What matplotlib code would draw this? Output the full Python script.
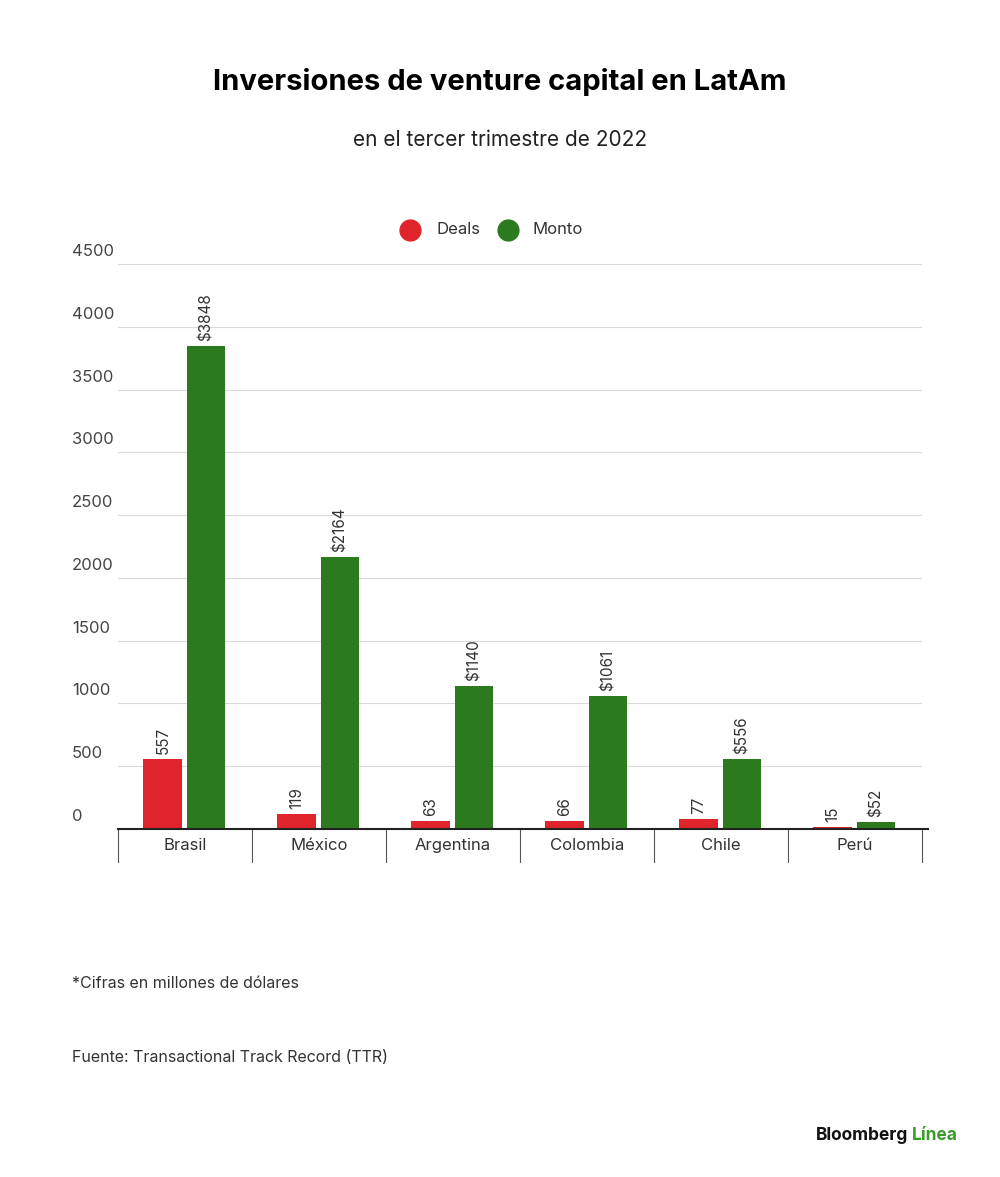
import matplotlib
matplotlib.use("Agg")
import matplotlib.pyplot as plt
import numpy as np

categories = ["Brasil", "México", "Argentina", "Colombia", "Chile", "Perú"]
deals = [557, 119, 63, 66, 77, 15]
monto = [3848, 2164, 1140, 1061, 556, 52]
yticks = [0, 500, 1000, 1500, 2000, 2500, 3000, 3500, 4000, 4500]

RED = "#e0242b"
GREEN = "#2c7a1e"
plt.rcParams['font.family'] = ['Inter', 'DejaVu Sans']

fig = plt.figure(figsize=(10, 11.77), dpi=100)
ax = fig.add_axes([0.118, 1 - 829/1177, 0.804, (829-264)/1177])
x = np.arange(len(categories))
w = 0.29
ax.bar(x - 0.165, deals, w, color=RED, zorder=3)
ax.bar(x + 0.157, monto, w, color=GREEN, zorder=3)
for xi, d, m in zip(x, deals, monto):
    ax.text(xi - 0.165, d + 40, f"{d}", rotation=90, ha='center', va='bottom', fontsize=11, color='#333')
    ax.text(xi + 0.157, m + 40, f"${m}", rotation=90, ha='center', va='bottom', fontsize=11, color='#333')
ax.set_xlim(-0.5, len(categories) - 0.5)
ax.set_ylim(0, 4500)
ax.set_yticks(yticks)
ax.set_yticklabels([])
ax.tick_params(left=False, bottom=False, labelbottom=False)
for y in yticks[1:]:
    ax.axhline(y, color='#d9d9d9', lw=0.8, zorder=1)
for s in ['top', 'right', 'left', 'bottom']:
    ax.spines[s].set_visible(False)
ax.axhline(0, color='#222', lw=1.5, zorder=4, xmin=0, xmax=1.007, clip_on=False)
for y in yticks:
    ax.text(-0.5 - (118-72)/134, y + 40, str(y), ha='left', va='bottom', fontsize=12, color='#444', clip_on=False)
for b in np.arange(len(categories) + 1) - 0.5:
    ax.plot([b, b], [0, -260], color='#555', lw=0.8, clip_on=False)
for xi, c in zip(x, categories):
    ax.text(xi, -130, c, ha='center', va='center', fontsize=12, color='#333')

fig.text(0.5, 1 - 82/1177, "Inversiones de venture capital en LatAm", ha='center', va='center', fontsize=21, fontweight='bold')
fig.text(0.5, 1 - 140/1177, "en el tercer trimestre de 2022", ha='center', va='center', fontsize=15, color='#222')
fig.lines.append(plt.Line2D([0.410], [1 - 230/1177], marker='o', ms=15, color=RED, transform=fig.transFigure))
fig.lines.append(plt.Line2D([0.508], [1 - 230/1177], marker='o', ms=15, color=GREEN, transform=fig.transFigure))
fig.text(0.436, 1 - 230/1177, "Deals", va='center', fontsize=12, color='#333')
fig.text(0.533, 1 - 230/1177, "Monto", va='center', fontsize=12, color='#333')
fig.text(0.072, 1 - 983/1177, "*Cifras en millones de dólares", va='center', fontsize=11.5, color='#333')
fig.text(0.072, 1 - 1057/1177, "Fuente: Transactional Track Record (TTR)", va='center', fontsize=11.5, color='#333')
fig.text(0.958, 1 - 1135/1177, "Línea", ha='right', va='center', fontsize=12.5, fontweight='bold', color='#3a9b2a')
fig.text(0.908, 1 - 1135/1177, "Bloomberg", ha='right', va='center', fontsize=12.5, fontweight='bold', color='#111')
fig.savefig("out.png", dpi=100, facecolor='white')
